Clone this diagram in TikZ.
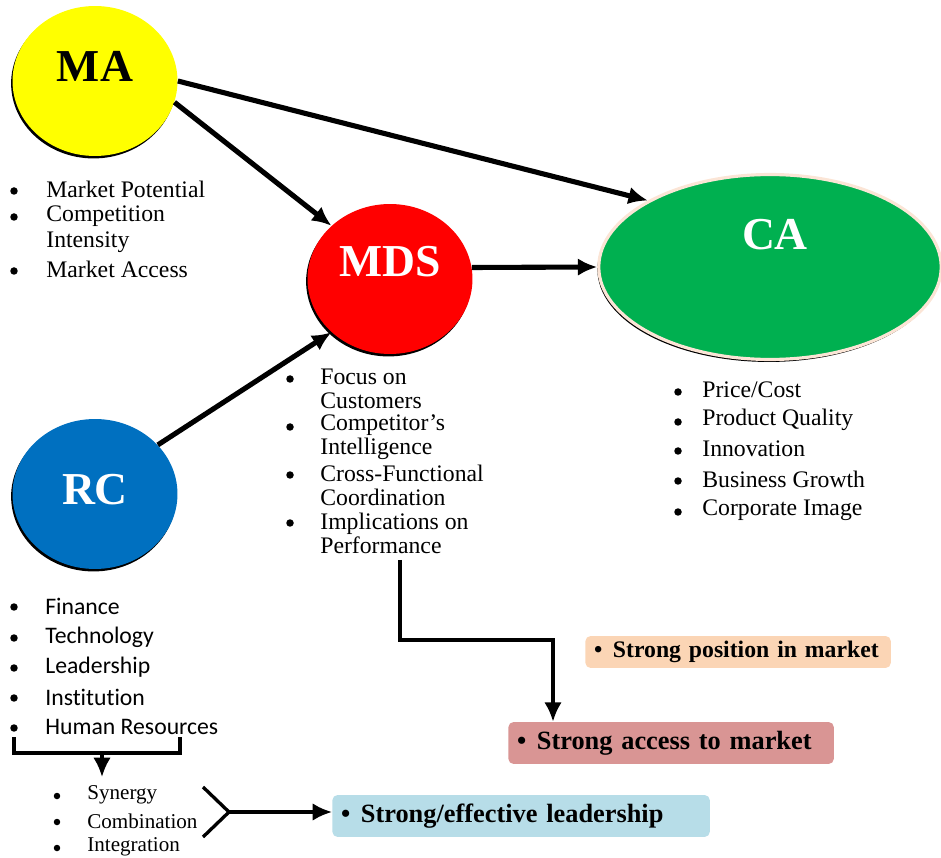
\documentclass[tikz,border=0pt]{standalone}
\usepackage{fontspec}
\setmainfont{Liberation Serif}
\newfontfamily\calibri[Ligatures=NoCommon]{Carlito}
\usepackage{tikz}
\usetikzlibrary{positioning,shapes.geometric,shadows,arrows.meta,calc}
\definecolor{maYellow}{HTML}{FFFF00}
\definecolor{mdsRed}{HTML}{FF0000}
\definecolor{caGreen}{HTML}{00B050}
\definecolor{caEdge}{HTML}{FBE5D6}
\definecolor{rcBlue}{HTML}{0070C0}
\definecolor{posFill}{HTML}{FBD5B5}
\definecolor{accFill}{HTML}{D99594}
\definecolor{leadFill}{HTML}{B7DDE8}

\begin{document}
\begin{tikzpicture}[
x=0.02cm, y=-0.02cm,
bubble/.style={
  ellipse,
  inner sep=0pt,
  minimum width=3.3cm,
  minimum height=3cm,
  drop shadow={shadow xshift=-0.8pt,shadow yshift=-1.4pt,opacity=1,fill=black}
  },
head/.style={
  inner sep=0pt,
  font=\fontsize{26}{28}\selectfont\bfseries
  },
item/.style={
  anchor=west,
  inner sep=0pt,
  align=left,
  font=\fontsize{13.5}{13.6}\selectfont
  },
dot/.style={
  circle,
  fill=black,
  inner sep=0pt,
  minimum size=0.15cm
  },
tag/.style={
  anchor=west,
  rounded corners=3pt,
  inner xsep=5pt,
  inner ysep=0pt,
  align=left,
  font=\fontsize{15}{16}\selectfont\bfseries
  },
link/.style={
  ->,
  line width=2.9pt
  },
thin/.style={
  line width=1.9pt
  },
>={Latex[length=11pt,width=10pt]}
]
\useasboundingbox (0,0) rectangle (941,858);

% the four bubbles
\node[bubble, fill=maYellow] (ma) at (95,81) {};
\node[head] (ma-t) at (95,66) {MA};
\node[bubble, fill=mdsRed] (mds) at (390,279) {};
\node[head, text=white] (mds-t) at (390,262) {MDS};
\node[bubble, fill=caGreen, draw=caEdge, line width=1.8pt,
  minimum width=6.85cm, minimum height=3.7cm] (ca) at (770,267) {};
\node[head, text=white] (ca-t) at (775,235) {CA};
\node[bubble, fill=rcBlue] (rc) at (95,494) {};
\node[head, text=white] (rc-t) at (95,490) {RC};

\draw[link] (ma.east) -- (ca.north west);
\draw[link] (ma.-15) -- (mds.north west);
\draw[link] (mds.8) -- (ca.west);
\draw[link] (rc.38) -- (mds.south west);

% lists
\foreach \yy/\by/\txt [count=\i] in {189/191/Market Potential, 229/217/{Competition\\Intensity}, 269/271/Market Access}
{
  \node[item, font=\fontsize{13.5}{14.8}\selectfont] (ma-\i) at (46,\yy) {\txt};
  \node[dot] (ma-b\i) at (14,\by) {};
}
\foreach \yy/\by/\txt [count=\i] in {389/379/{Focus on\\Customers}, 437/427/{Competitor's\\Intelligence}, 485/475/{Cross-Functional\\Coordination}, 533/523/{Implications on\\Performance}}
{
  \node[item] (mds-\i) at (320,\yy) {\txt};
  \node[dot] (mds-b\i) at (290,\by) {};
}
\foreach \yy/\txt [count=\i] in {390/{Price/Cost}, 420/Product Quality, 449/Innovation, 479/Business Growth, 510/Corporate Image}
{
  \node[item] (ca-\i) at (702,\yy) {\txt};
  \node[dot] (ca-b\i) at (678,\yy+2) {};
}
\foreach \yy/\txt [count=\i] in {606/Finance, 637/Technology, 667/Leadership, 697/Institution, 727/Human Resources}
{
  \node[item, font=\calibri\fontsize{13.5}{14}\selectfont] (rc-\i) at (45,\yy) {\txt};
  \node[dot] (rc-b\i) at (14,\yy+1) {};
}
\foreach \yy/\txt [count=\i] in {795/Synergy, 821/Combination, 847/Integration}
{
  \node[item, font=\fontsize{12}{13}\selectfont] (syn-\i) at (87,\yy) {\txt};
  \node[dot, minimum size=0.13cm] (syn-b\i) at (57,\yy+1) {};
}

% outcome boxes
\node[tag, fill=posFill, minimum width=5.96cm, minimum height=0.64cm,
  text width=5.76cm, font=\fontsize{13.5}{14}\selectfont\bfseries]
  (pos) at (585,652) {\textbullet\hspace{6pt}Strong position in market};
\node[tag, fill=accFill, minimum width=6.36cm, minimum height=0.84cm,
  text width=6.16cm] (acc) at (508,743) {\textbullet\hspace{6pt}Strong access to market};
\node[tag, fill=leadFill, minimum width=7.4cm, minimum height=0.84cm,
  text width=7.2cm] (lead) at (332,816) {\textbullet\hspace{6pt}Strong/effective leadership};

% elbow from the MDS list
\coordinate (elb) at (400,560);
\coordinate (turn) at (553,640);
\draw[->, thin] (elb) |- (turn) -- (turn |- acc.north);

% bracket under the RC list
\coordinate (brl) at (14,737);
\coordinate (brr) at (180,737);
\coordinate (brm) at (102,753);
\draw[thin] (brl) -- ++(0,16) -| (brr);
\draw[->, thin] (brm) -- ++(0,24);

% chevron to the leadership box
\coordinate (chev-t) at (203,787);
\coordinate (chev) at (229,812);
\coordinate (chev-b) at (203,837);
\draw[thin] (chev-t) -- (chev) -- (chev-b);
\draw[->, thin] (chev) -- (chev -| lead.west);

\end{tikzpicture}
\end{document}
